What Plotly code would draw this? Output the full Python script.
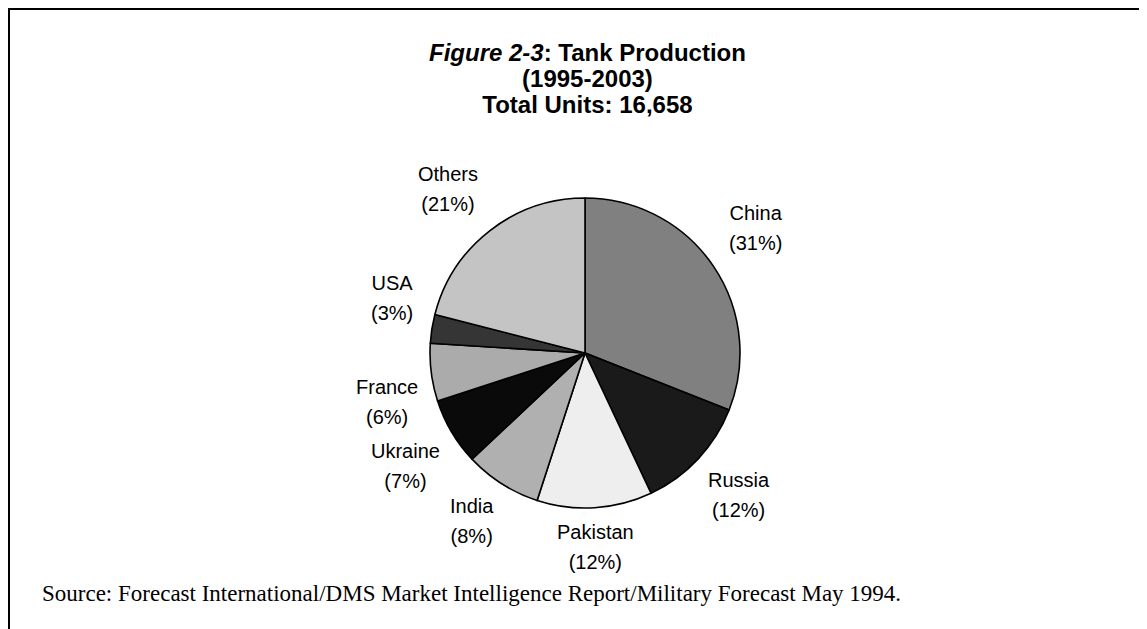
import math
import plotly.graph_objects as go

countries = ["China", "Russia", "Pakistan", "India", "Ukraine", "France", "USA", "Others"]
shares = [31, 12, 12, 8, 7, 6, 3, 21]
colors = ["#808080", "#1a1a1a", "#eeeeee", "#b0b0b0", "#0a0a0a", "#ababab", "#353535", "#c4c4c4"]
title_lines = ["<i>Figure 2-3</i>: Tank Production", "(1995-2003)", "Total Units: 16,658"]
source_text = "Source: Forecast International/DMS Market Intelligence Report/Military Forecast May 1994."

W, H = 1147, 629
OFF = 8  # page offset of the plot inside the browser window
cx, cy, r = 585 - OFF, 353 - OFF, 155
gap_above, gap_below = 17, 11

fig = go.Figure(go.Pie(
    labels=countries,
    values=shares,
    sort=False,
    direction="clockwise",
    rotation=0,
    marker=dict(colors=colors, line=dict(color="black", width=1.6)),
    textinfo="none",
    showlegend=False,
    hoverinfo="label+value",
    domain=dict(x=[(cx - r) / W, (cx + r) / W], y=[1 - (cy + r) / H, 1 - (cy - r) / H]),
))

annotations = []
# slice labels placed just outside each slice's mid-angle
cum = 0
total = sum(shares)
for name, s in zip(countries, shares):
    mid = (cum + s / 2) / total * 2 * math.pi
    cum += s
    sx, sy = math.sin(mid), math.cos(mid)
    R = r + (gap_above if sy > 0 else gap_below)
    px, py = cx + R * sx, cy - R * sy
    xa = "left" if sx > 0.2 else ("right" if sx < -0.2 else "center")
    ya = "bottom" if sy > 0 else "top"
    annotations.append(dict(
        text=f"<span style='font-size:20px'>{name}</span><br><span style='font-size:20px'>({s}%)</span>",
        x=px / W, y=1 - py / H, xref="paper", yref="paper",
        xanchor=xa, yanchor=ya, align="center", showarrow=False,
        font=dict(family="Liberation Sans, Arial", size=23, color="black")))

title_html = "<br>".join(f"<span style='font-size:24px'><b>{t}</b></span>" for t in title_lines)
annotations.append(dict(
    text=title_html, x=(587 - OFF) / W, y=1 - (78 - OFF) / H, xref="paper", yref="paper",
    xanchor="center", yanchor="middle", align="center", showarrow=False,
    font=dict(family="Liberation Sans, Arial", size=20, color="black")))

annotations.append(dict(
    text=source_text, x=(40 - OFF) / W, y=1 - (593 - OFF) / H, xref="paper", yref="paper",
    xanchor="left", yanchor="middle", showarrow=False,
    font=dict(family="Liberation Serif, Times New Roman", size=23, color="black")))

fig.update_layout(
    width=W, height=H,
    margin=dict(l=0, r=0, t=0, b=0),
    paper_bgcolor="white",
    plot_bgcolor="white",
    annotations=annotations,
    shapes=[
        dict(type="line", xref="paper", yref="paper", x0=0, x1=1, y0=1 - 1 / H, y1=1 - 1 / H,
             line=dict(color="black", width=2)),
        dict(type="line", xref="paper", yref="paper", x0=1 / W, x1=1 / W, y0=1, y1=0,
             line=dict(color="black", width=2)),
    ],
)

fig.write_html("out.html")
